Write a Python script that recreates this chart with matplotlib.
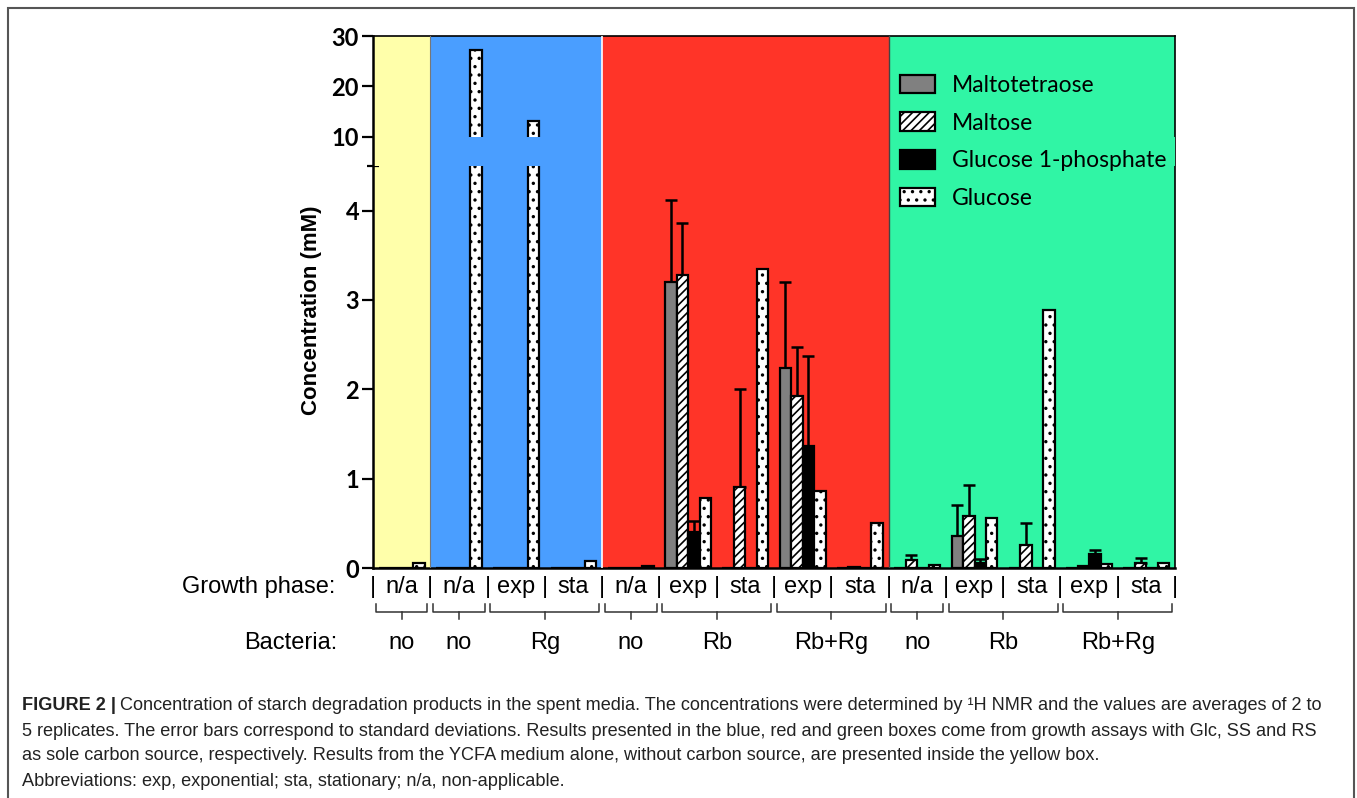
import numpy as np
import matplotlib
matplotlib.use("Agg")
import matplotlib.pyplot as plt
from matplotlib.patches import Rectangle, Patch

W, H = 1357, 798

# Données (concentrations en mM)
phases = ["n/a", "n/a", "exp", "sta", "n/a", "exp", "sta", "exp", "sta",
          "n/a", "exp", "sta", "exp", "sta"]
bacteries = ["no", "no", "Rg", "no", "Rb", "Rb+Rg", "no", "Rb", "Rb+Rg"]
bact_debut = [0, 1, 2, 4, 5, 7, 9, 10, 12]
bact_fin = [0, 1, 3, 4, 6, 8, 9, 11, 13]

composes = ["Maltotetraose", "Maltose", "Glucose 1-phosphate", "Glucose"]
maltotetraose = [0, 0, 0, 0, 0, 3.20, 0, 2.24, 0, 0, 0.36, 0, 0, 0]
maltotetraose_sd = [0, 0, 0, 0, 0, 0.92, 0, 0.96, 0, 0, 0.35, 0, 0, 0]
maltose = [0, 0, 0, 0, 0, 3.28, 0.91, 1.92, 0.01, 0.09, 0.58, 0.26, 0.02, 0.06]
maltose_sd = [0, 0, 0, 0, 0, 0.58, 1.09, 0.55, 0, 0.05, 0.35, 0.24, 0, 0.05]
g1p = [0, 0, 0, 0, 0, 0.40, 0, 1.36, 0, 0, 0.06, 0, 0.16, 0]
g1p_sd = [0, 0, 0, 0, 0, 0.13, 0, 1.01, 0, 0, 0.04, 0, 0.04, 0]
glucose = [0.06, 27.3, 13.1, 0.08, 0.02, 0.78, 3.35, 0.86, 0.50, 0.03, 0.56, 2.89, 0.05, 0.06]
glucose_sd = [0] * 14

# Zones colorées (milieu seul, Glc, SS, RS)
zones_debut = [0, 1, 4, 9]
zones_fin = [0, 3, 8, 13]
zones_couleurs = ["#FFFFAA", "#4A9EFF", "#FF3428", "#30F5A5"]

# Axe coupé
COUPE_BAS, COUPE_HAUT = 4.5, 10
TROU = 0.323
ECH_HAUT = 0.0565


def avant(y):
    y = np.asarray(y, dtype=float)
    return np.where(y <= COUPE_BAS, y,
                    np.where(y < COUPE_HAUT,
                             COUPE_BAS + (y - COUPE_BAS) / (COUPE_HAUT - COUPE_BAS) * TROU,
                             COUPE_BAS + TROU + (y - COUPE_HAUT) * ECH_HAUT))


def arriere(v):
    v = np.asarray(v, dtype=float)
    return np.where(v <= COUPE_BAS, v,
                    np.where(v < COUPE_BAS + TROU,
                             COUPE_BAS + (v - COUPE_BAS) / TROU * (COUPE_HAUT - COUPE_BAS),
                             COUPE_HAUT + (v - COUPE_BAS - TROU) / ECH_HAUT))


plt.rcParams["hatch.linewidth"] = 1.2
fig = plt.figure(figsize=(W / 100, H / 100), dpi=100)
ax = fig.add_axes([373 / W, 1 - 568 / H, 802 / W, 532 / H])
ax.set_yscale("function", functions=(avant, arriere))

x = np.arange(len(phases))
larg = 0.2

for d, f, c in zip(zones_debut, zones_fin, zones_couleurs):
    ax.axvspan(d - 0.5, f + 0.5, color=c, zorder=0, lw=0)

styles = [dict(color="#808080", hatch=None),
          dict(color="white", hatch="////"),
          dict(color="black", hatch=None),
          dict(color="white", hatch="..")]
valeurs = [maltotetraose, maltose, g1p, glucose]
ecarts = [maltotetraose_sd, maltose_sd, g1p_sd, glucose_sd]

for i, (val, sd, st) in enumerate(zip(valeurs, ecarts, styles)):
    pos = x + (i - 1.5) * larg
    ax.bar(pos, val, larg, color=st["color"], hatch=st["hatch"],
           edgecolor="black", linewidth=1.6, zorder=3)
    sd = np.array(sd)
    m = sd > 0
    ax.errorbar(pos[m], np.array(val)[m], yerr=[np.zeros(m.sum()), sd[m]],
                fmt="none", ecolor="black", elinewidth=1.8, capsize=4,
                capthick=1.8, zorder=2)

# on masque la partie coupée des barres
for d, f, c in zip(zones_debut, zones_fin, zones_couleurs):
    ax.add_patch(Rectangle((d - 0.5, COUPE_BAS), f - d + 1, COUPE_HAUT - COUPE_BAS,
                           facecolor=c, edgecolor="none", zorder=4))

# séparations entre zones
ax.axvline(0.5, color="#777777", lw=0.8, zorder=5)
ax.axvline(3.5, color="white", lw=1.2, zorder=5)
ax.axvline(8.5, color="#444444", lw=1.0, zorder=5)

ax.set_xlim(-0.5, 13.5)
ax.set_ylim(0, 30)
ax.set_xticks([])
ax.set_yticks([0, 1, 2, 3, 4, 10, 20, 30])
ax.set_yticks([COUPE_BAS], minor=True)
ax.yaxis.set_minor_formatter(plt.NullFormatter())
ax.tick_params(axis="y", which="major", length=8, width=1.6, pad=2,
               labelsize=17)
ax.tick_params(axis="y", which="minor", direction="inout", length=9, width=1.6)
for lab in ax.get_yticklabels():
    lab.set_fontfamily("Lato")
    lab.set_fontweight("bold")
for s in ["left", "bottom"]:
    ax.spines[s].set_linewidth(1.8)
for s in ["top", "right"]:
    ax.spines[s].set_linewidth(1.2)
ax.spines["left"].set_zorder(6)

ax.set_ylabel("Concentration (mM)", fontsize=16, fontweight="bold",
              fontfamily="Liberation Sans")
ax.yaxis.set_label_coords(-0.064, 0.485)

# légende
poignees = [Patch(facecolor=st["color"], hatch=st["hatch"], edgecolor="black",
                  linewidth=1.6) for st in styles]
leg = ax.legend(poignees, composes, loc="upper left",
                bbox_to_anchor=(0.632, 0.966), frameon=False,
                prop={"family": "Lato", "size": 16.5}, handlelength=1.52,
                handleheight=0.87, labelspacing=0.72, handletextpad=0.72)
leg.set_zorder(7)

# étiquettes du bas
trans = ax.get_xaxis_transform()


def y_ax(py):
    return (568 - py) / 532


police = dict(family="Liberation Sans", fontsize=17)
for xi, ph in zip(x, phases):
    ax.text(xi, y_ax(587), ph, transform=trans, ha="center", va="center",
            clip_on=False, **police)
for b in np.arange(-0.5, 14, 1):
    ax.text(b, y_ax(587), "|", transform=trans, ha="center", va="center",
            clip_on=False, **police)

for nom, d, f in zip(bacteries, bact_debut, bact_fin):
    g, dr = d - 0.5 + 0.05, f + 0.5 - 0.05
    ax.plot([g, g, dr, dr], [y_ax(604), y_ax(612), y_ax(612), y_ax(604)],
            transform=trans, color="#333333", lw=1.1, clip_on=False)
    mil = (d + f) / 2
    ax.plot([mil, mil], [y_ax(612), y_ax(619)], transform=trans,
            color="#333333", lw=1.1, clip_on=False)
    ax.text(mil, y_ax(643), nom, transform=trans, ha="center", va="center",
            clip_on=False, **police)

ax.text((335 - 373) / 802, y_ax(587), "Growth phase:", transform=ax.transAxes,
        ha="right", va="center", **police)
ax.text((337 - 373) / 802, y_ax(643), "Bacteria:", transform=ax.transAxes,
        ha="right", va="center", **police)

# cadre et légende de la figure
fig.add_artist(Rectangle((8 / W, -0.02), 1346 / W, 1 - 8 / H + 0.02,
                         transform=fig.transFigure, fill=False,
                         edgecolor="#555555", lw=1.5))

lignes = [
    "Concentration of starch degradation products in the spent media. The concentrations were determined by \u00b9H NMR and the values are averages of 2 to",
    "5 replicates. The error bars correspond to standard deviations. Results presented in the blue, red and green boxes come from growth assays with Glc, SS and RS",
    "as sole carbon source, respectively. Results from the YCFA medium alone, without carbon source, are presented inside the yellow box.",
    "Abbreviations: exp, exponential; sta, stationary; n/a, non-applicable.",
]
lignes_y = [705, 731, 756, 781]
cap = dict(family="Liberation Sans", fontsize=13.1, color="#222222", va="center")
t = fig.text(22 / W, 1 - lignes_y[0] / H, "FIGURE 2 |", fontweight="bold", **cap)
rend = fig.canvas.get_renderer()
x1 = t.get_window_extent(rend).x1 / fig.bbox.width + 4 / W
fig.text(x1, 1 - lignes_y[0] / H, lignes[0], **cap)
for ligne, py in zip(lignes[1:], lignes_y[1:]):
    fig.text(22 / W, 1 - py / H, ligne, **cap)

fig.savefig("out.png", dpi=100)
